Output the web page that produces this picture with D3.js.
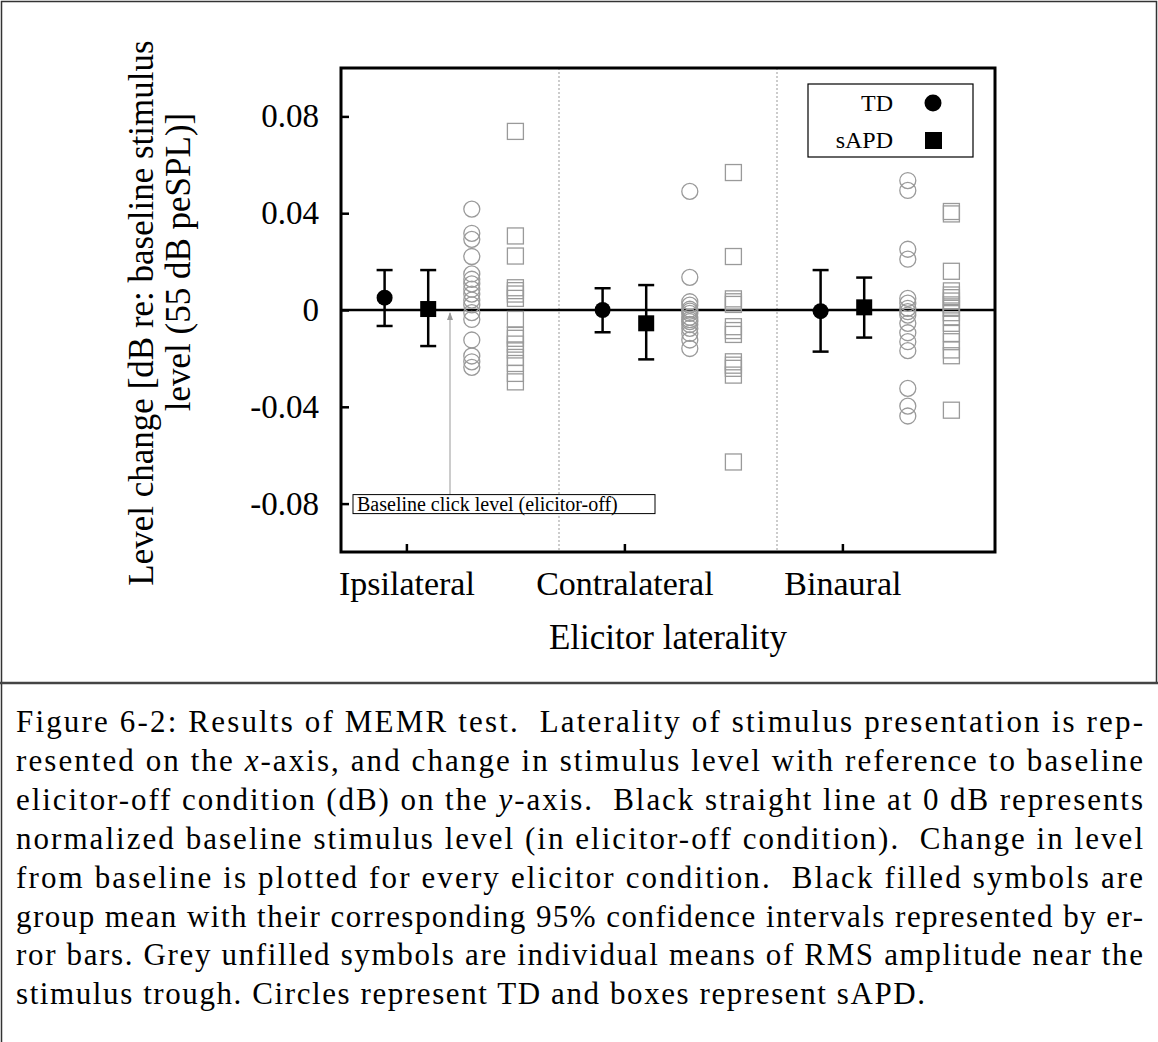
<!DOCTYPE html>
<html>
<head>
<meta charset="utf-8">
<script src="https://cdn.jsdelivr.net/npm/d3@7"></script>
<style>
  body { margin: 0; background: #fff; }
  svg { display: block; font-family: "Liberation Serif", "Times New Roman", serif; }
</style>
</head>
<body>
<div id="chart"></div>
<script>
// MEMR test: change in stimulus level by elicitor laterality
const categories = ["Ipsilateral", "Contralateral", "Binaural"];
const groups = ["TD", "sAPD"];

// group means and 95% CI ends (dB)
const tdMean = [0.0051, 0.0000, -0.0005];
const tdLow = [-0.0066, -0.0092, -0.0172];
const tdHigh = [0.0165, 0.0090, 0.0165];
const sapdMean = [0.0004, -0.0055, 0.0011];
const sapdLow = [-0.0149, -0.0204, -0.0114];
const sapdHigh = [0.0165, 0.0103, 0.0134];

// individual means, TD (circles)
const tdIpsi = [0.0417, 0.0317, 0.0292, 0.0221, 0.0149, 0.0127, 0.0108, 0.0086, 0.0066, 0.0041, 0.0021, -0.0011, -0.0039, -0.0124, -0.0190, -0.0214, -0.0237];
const tdContra = [0.0490, 0.0135, 0.0034, 0.0020, 0.0003, -0.0005, -0.0014, -0.0030, -0.0040, -0.0048, -0.0060, -0.0076, -0.0097, -0.0124, -0.0159];
const tdBin = [0.0535, 0.0494, 0.0251, 0.0210, 0.0048, 0.0028, 0.0007, -0.0007, -0.0021, -0.0055, -0.0094, -0.0131, -0.0168, -0.0324, -0.0397, -0.0438];

// individual means, sAPD (squares)
const sapdIpsi = [0.0738, 0.0306, 0.0223, 0.0092, 0.0080, 0.0066, 0.0048, -0.0039, -0.0103, -0.0117, -0.0141, -0.0165, -0.0196, -0.0221, -0.0262, -0.0297];
const sapdContra = [0.0568, 0.0221, 0.0046, 0.0034, 0.0023, -0.0069, -0.0085, -0.0101, -0.0214, -0.0228, -0.0241, -0.0269, -0.0628];
const sapdBin = [0.0407, 0.0397, 0.0160, 0.0079, 0.0062, 0.0051, 0.0037, 0.0021, 0.0007, -0.0011, -0.0028, -0.0055, -0.0097, -0.0131, -0.0165, -0.0189, -0.0414];

const yTicks = [-0.08, -0.04, 0, 0.04, 0.08];

const captionLines = [
    "Figure 6-2: Results of MEMR test.  Laterality of stimulus presentation is rep-",
    "resented on the x-axis, and change in stimulus level with reference to baseline",
    "elicitor-off condition (dB) on the y-axis.  Black straight line at 0 dB represents",
    "normalized baseline stimulus level (in elicitor-off condition).  Change in level",
    "from baseline is plotted for every elicitor condition.  Black filled symbols are",
    "group mean with their corresponding 95% confidence intervals represented by er-",
    "ror bars. Grey unfilled symbols are individual means of RMS amplitude near the",
    "stimulus trough. Circles represent TD and boxes represent sAPD."
];

const width = 1158, height = 1042;
const margin = { left: 341, right: 163, top: 68, bottom: 490 };
const plotW = width - margin.left - margin.right;
const plotH = height - margin.top - margin.bottom;

const svg = d3.select("#chart")
    .append("svg")
    .attr("width", width)
    .attr("height", height);

// outer figure border
svg.append("path")
    .attr("d", `M1.5,${height} V1.5 H1156.5 V683`)
    .attr("fill", "none")
    .attr("stroke", "#333")
    .attr("stroke-width", 1.5);
svg.append("line")
    .attr("x1", 0).attr("x2", width)
    .attr("y1", 683).attr("y2", 683)
    .attr("stroke", "#444")
    .attr("stroke-width", 2.5);

const g = svg.append("g")
    .attr("transform", `translate(${margin.left},${margin.top})`);

// each category holds 5 slots: TD mean, sAPD mean, TD indiv, sAPD indiv
const x = d3.scaleLinear().domain([0, 15]).range([0, plotW]);
const y = d3.scaleLinear().domain([-0.1, 0.1]).range([plotH, 0]);

const fmt = d => d === 0 ? "0" : d.toFixed(2).replace("\u2212", "-");

// category separators
g.selectAll(".sep")
    .data([5, 10])
    .enter()
    .append("line")
    .attr("x1", d => x(d)).attr("x2", d => x(d))
    .attr("y1", 0).attr("y2", plotH)
    .attr("stroke", "#999")
    .attr("stroke-width", 1)
    .attr("stroke-dasharray", "2,2");

// axes
const yAxis = g.append("g")
    .call(d3.axisLeft(y).tickValues(yTicks).tickSize(-8).tickPadding(22).tickFormat(fmt));
yAxis.select(".domain").remove();
yAxis.selectAll(".tick line").attr("stroke", "#000").attr("stroke-width", 2.5);
yAxis.selectAll("text")
    .attr("font-family", "Liberation Serif")
    .attr("font-size", 33)
    .attr("fill", "#000");

const xAxis = g.append("g")
    .attr("transform", `translate(0,${plotH})`)
    .call(d3.axisBottom(x)
        .tickValues(categories.map((c, i) => 5 * i + 1.5))
        .tickSize(-8)
        .tickPadding(19)
        .tickFormat((d, i) => categories[i]));
xAxis.select(".domain").remove();
xAxis.selectAll(".tick line").attr("stroke", "#000").attr("stroke-width", 2.5);
xAxis.selectAll("text")
    .attr("font-family", "Liberation Serif")
    .attr("font-size", 34)
    .attr("fill", "#000");

// zero baseline
g.append("line")
    .attr("x1", 0).attr("x2", plotW)
    .attr("y1", y(0)).attr("y2", y(0))
    .attr("stroke", "#000")
    .attr("stroke-width", 2.5);

// individual points
const tdIndividual = [tdIpsi, tdContra, tdBin];
const sapdIndividual = [sapdIpsi, sapdContra, sapdBin];
const grey = "#9a9a9a";

tdIndividual.forEach((vals, i) => {
    g.selectAll(null)
        .data(vals)
        .enter()
        .append("circle")
        .attr("cx", x(5 * i + 3))
        .attr("cy", d => y(d))
        .attr("r", 8)
        .attr("fill", "none")
        .attr("stroke", grey)
        .attr("stroke-width", 1.3);
});

sapdIndividual.forEach((vals, i) => {
    g.selectAll(null)
        .data(vals)
        .enter()
        .append("rect")
        .attr("x", x(5 * i + 4) - 8)
        .attr("y", d => y(d) - 8)
        .attr("width", 16)
        .attr("height", 16)
        .attr("fill", "none")
        .attr("stroke", grey)
        .attr("stroke-width", 1.3);
});

// group means with error bars
const meanData = [];
categories.forEach((c, i) => {
    meanData.push({ slot: 5 * i + 1, mean: tdMean[i], lo: tdLow[i], hi: tdHigh[i], group: "TD" });
    meanData.push({ slot: 5 * i + 2, mean: sapdMean[i], lo: sapdLow[i], hi: sapdHigh[i], group: "sAPD" });
});

const bars = g.selectAll(".mean")
    .data(meanData)
    .enter()
    .append("g")
    .attr("class", "mean");

bars.append("line")
    .attr("x1", d => x(d.slot)).attr("x2", d => x(d.slot))
    .attr("y1", d => y(d.lo)).attr("y2", d => y(d.hi))
    .attr("stroke", "#000").attr("stroke-width", 2.5);
bars.append("line")
    .attr("x1", d => x(d.slot) - 8).attr("x2", d => x(d.slot) + 8)
    .attr("y1", d => y(d.hi)).attr("y2", d => y(d.hi))
    .attr("stroke", "#000").attr("stroke-width", 2.5);
bars.append("line")
    .attr("x1", d => x(d.slot) - 8).attr("x2", d => x(d.slot) + 8)
    .attr("y1", d => y(d.lo)).attr("y2", d => y(d.lo))
    .attr("stroke", "#000").attr("stroke-width", 2.5);

bars.filter(d => d.group === "TD")
    .append("circle")
    .attr("cx", d => x(d.slot))
    .attr("cy", d => y(d.mean))
    .attr("r", 8)
    .attr("fill", "#000");
bars.filter(d => d.group === "sAPD")
    .append("rect")
    .attr("x", d => x(d.slot) - 8)
    .attr("y", d => y(d.mean) - 8)
    .attr("width", 16)
    .attr("height", 16)
    .attr("fill", "#000");

// annotation box + arrow to baseline
const note = g.append("g");
note.append("line")
    .attr("x1", x(2.5)).attr("x2", x(2.5))
    .attr("y1", y(-0.08) - 9).attr("y2", y(0) + 3)
    .attr("stroke", "#999").attr("stroke-width", 1);
note.append("path")
    .attr("d", `M${x(2.5)},${y(0) + 2} l-3,8 h6 z`)
    .attr("fill", "#999");
note.append("rect")
    .attr("x", 12).attr("y", y(-0.08) - 9)
    .attr("width", 302).attr("height", 19)
    .attr("fill", "#fff")
    .attr("stroke", "#000").attr("stroke-width", 1);
note.append("text")
    .attr("x", 16).attr("y", y(-0.08) + 7)
    .attr("font-size", 20)
    .text("Baseline click level (elicitor-off)");

// plot frame
g.append("rect")
    .attr("width", plotW).attr("height", plotH)
    .attr("fill", "none")
    .attr("stroke", "#000")
    .attr("stroke-width", 3);

// legend
const legend = g.append("g").attr("transform", `translate(${808 - margin.left},${84 - margin.top})`);
legend.append("rect")
    .attr("width", 165).attr("height", 73)
    .attr("fill", "#fff")
    .attr("stroke", "#000").attr("stroke-width", 1.2);
groups.forEach((name, i) => {
    const ly = 19 + i * 37;
    legend.append("text")
        .attr("x", 85).attr("y", ly + 8)
        .attr("text-anchor", "end")
        .attr("font-size", 24)
        .text(name);
    if (i === 0) {
        legend.append("circle").attr("cx", 125).attr("cy", ly).attr("r", 8.5).attr("fill", "#000");
    } else {
        legend.append("rect").attr("x", 117).attr("y", ly - 8).attr("width", 17).attr("height", 17).attr("fill", "#000");
    }
});

// axis titles
svg.append("text")
    .attr("x", margin.left + plotW / 2)
    .attr("y", 649)
    .attr("text-anchor", "middle")
    .attr("font-size", 35)
    .text("Elicitor laterality");

svg.append("text")
    .attr("transform", "translate(153,313) rotate(-90)")
    .attr("text-anchor", "middle")
    .attr("font-size", 35)
    .text("Level change [dB re: baseline stimulus");
svg.append("text")
    .attr("transform", "translate(190,262) rotate(-90)")
    .attr("text-anchor", "middle")
    .attr("font-size", 35)
    .text("level (55 dB peSPL)]");

// caption, justified between the margins
const cap = svg.append("g")
    .attr("font-family", "Liberation Serif")
    .attr("font-size", 31);
captionLines.forEach((line, i) => {
    const last = i === captionLines.length - 1;
    const t = cap.append("text")
        .attr("x", 16)
        .attr("y", 732 + i * 38.9)
        .attr("xml:space", "preserve")
        .attr("textLength", last ? 909 : 1127)
        .attr("lengthAdjust", "spacing");
    line.split(/([xy])(?=-axis)/).forEach((part, j) => {
        t.append("tspan")
            .attr("font-style", j % 2 ? "italic" : null)
            .text(part);
    });
});
</script>
</body>
</html>
